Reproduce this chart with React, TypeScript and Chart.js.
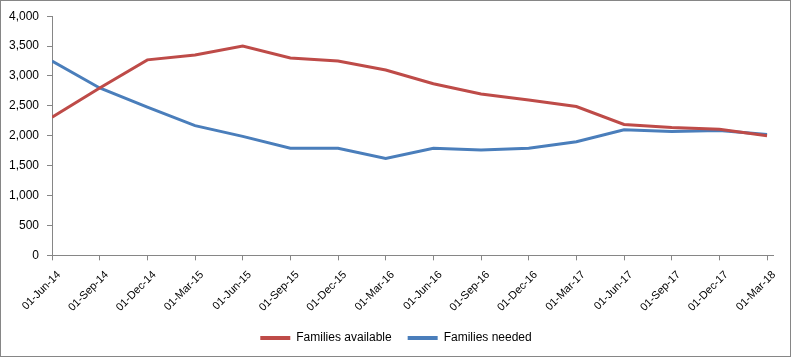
import React, { useEffect, useRef } from "react";
import { Chart, registerables } from "chart.js";

Chart.register(...registerables);

const categories = [
  "01-Jun-14", "01-Sep-14", "01-Dec-14", "01-Mar-15", "01-Jun-15", "01-Sep-15",
  "01-Dec-15", "01-Mar-16", "01-Jun-16", "01-Sep-16", "01-Dec-16", "01-Mar-17",
  "01-Jun-17", "01-Sep-17", "01-Dec-17", "01-Mar-18",
];

const familiesAvailable = [
  2310, 2800, 3270, 3350, 3500, 3300, 3250, 3100,
  2870, 2700, 2600, 2490, 2190, 2140, 2110, 2000,
];

const familiesNeeded = [
  3250, 2800, 2480, 2170, 1990, 1790, 1790, 1620,
  1790, 1760, 1790, 1900, 2100, 2070, 2090, 2020,
];

const yTicks = [0, 500, 1000, 1500, 2000, 2500, 3000, 3500, 4000];

const RED = "#BE4B48";
const BLUE = "#4A7EBB";
const AXIS = "#868686";

const legendShift = {
  id: "legendShift",
  afterLayout(chart: any) {
    if (chart.legend) {
      chart.legend.left += 9;
      chart.legend.right += 9;
    }
  },
};

export default function App() {
  const ref = useRef<HTMLCanvasElement | null>(null);

  useEffect(() => {
    if (!ref.current) return;
    const chart = new Chart(ref.current, {
      type: "line",
      data: {
        datasets: [
          {
            label: "Families available",
            data: familiesAvailable.map((v, i) => ({ x: i, y: v })),
            borderColor: RED,
            backgroundColor: RED,
            borderWidth: 3,
            pointRadius: 0,
            tension: 0,
          },
          {
            label: "Families needed",
            data: familiesNeeded.map((v, i) => ({ x: i, y: v })),
            borderColor: BLUE,
            backgroundColor: BLUE,
            borderWidth: 3,
            pointRadius: 0,
            tension: 0,
          },
        ],
      },
      plugins: [legendShift],
      options: {
        animation: false,
        responsive: false,
        maintainAspectRatio: false,
        layout: { padding: { top: 11, right: 17, left: 0, bottom: 2 } },
        scales: {
          x: {
            type: "linear",
            min: 0,
            max: categories.length - 1 + 0.125,
            grid: { drawOnChartArea: false, drawTicks: true, tickLength: 5, color: AXIS },
            border: { color: AXIS },
            afterFit: (s: any) => {
              s.height -= 6;
            },
            ticks: {
              stepSize: 1,
              includeBounds: false,
              autoSkip: false,
              minRotation: 45,
              maxRotation: 45,
              padding: 8,
              labelOffset: 7,
              color: "#000",
              font: { family: "Liberation Sans", size: 11 },
              callback: (v: any) => (Number.isInteger(v) ? categories[v] : ""),
            },
          },
          y: {
            min: yTicks[0],
            max: yTicks[yTicks.length - 1],
            grid: { drawOnChartArea: false, drawTicks: true, tickLength: 5, color: AXIS },
            border: { color: AXIS },
            afterBuildTicks: (scale: any) => {
              scale.ticks = yTicks.map((v) => ({ value: v }));
            },
            ticks: {
              padding: 8,
              color: "#000",
              font: { family: "Liberation Sans", size: 12 },
              callback: (v: any) => Number(v).toLocaleString("en-US"),
            },
          },
        },
        plugins: {
          tooltip: { enabled: false },
          legend: {
            position: "bottom",
            labels: {
              boxWidth: 30,
              boxHeight: 4,
              padding: 16,
              color: "#000",
              font: { family: "Liberation Sans", size: 12 },
              generateLabels: (c: any) =>
                Chart.defaults.plugins.legend.labels.generateLabels(c).map((l: any) => ({
                  ...l,
                  lineWidth: 0,
                  fillStyle: l.strokeStyle,
                })),
            },
          },
        },
      },
    });
    return () => chart.destroy();
  }, []);

  return (
    <div
      style={{
        position: "absolute",
        left: 0,
        top: 0,
        width: 791,
        height: 357,
        boxSizing: "border-box",
        border: `1px solid ${AXIS}`,
        background: "#fff",
      }}
    >
      <canvas ref={ref} width={789} height={355} style={{ display: "block" }} />
    </div>
  );
}
